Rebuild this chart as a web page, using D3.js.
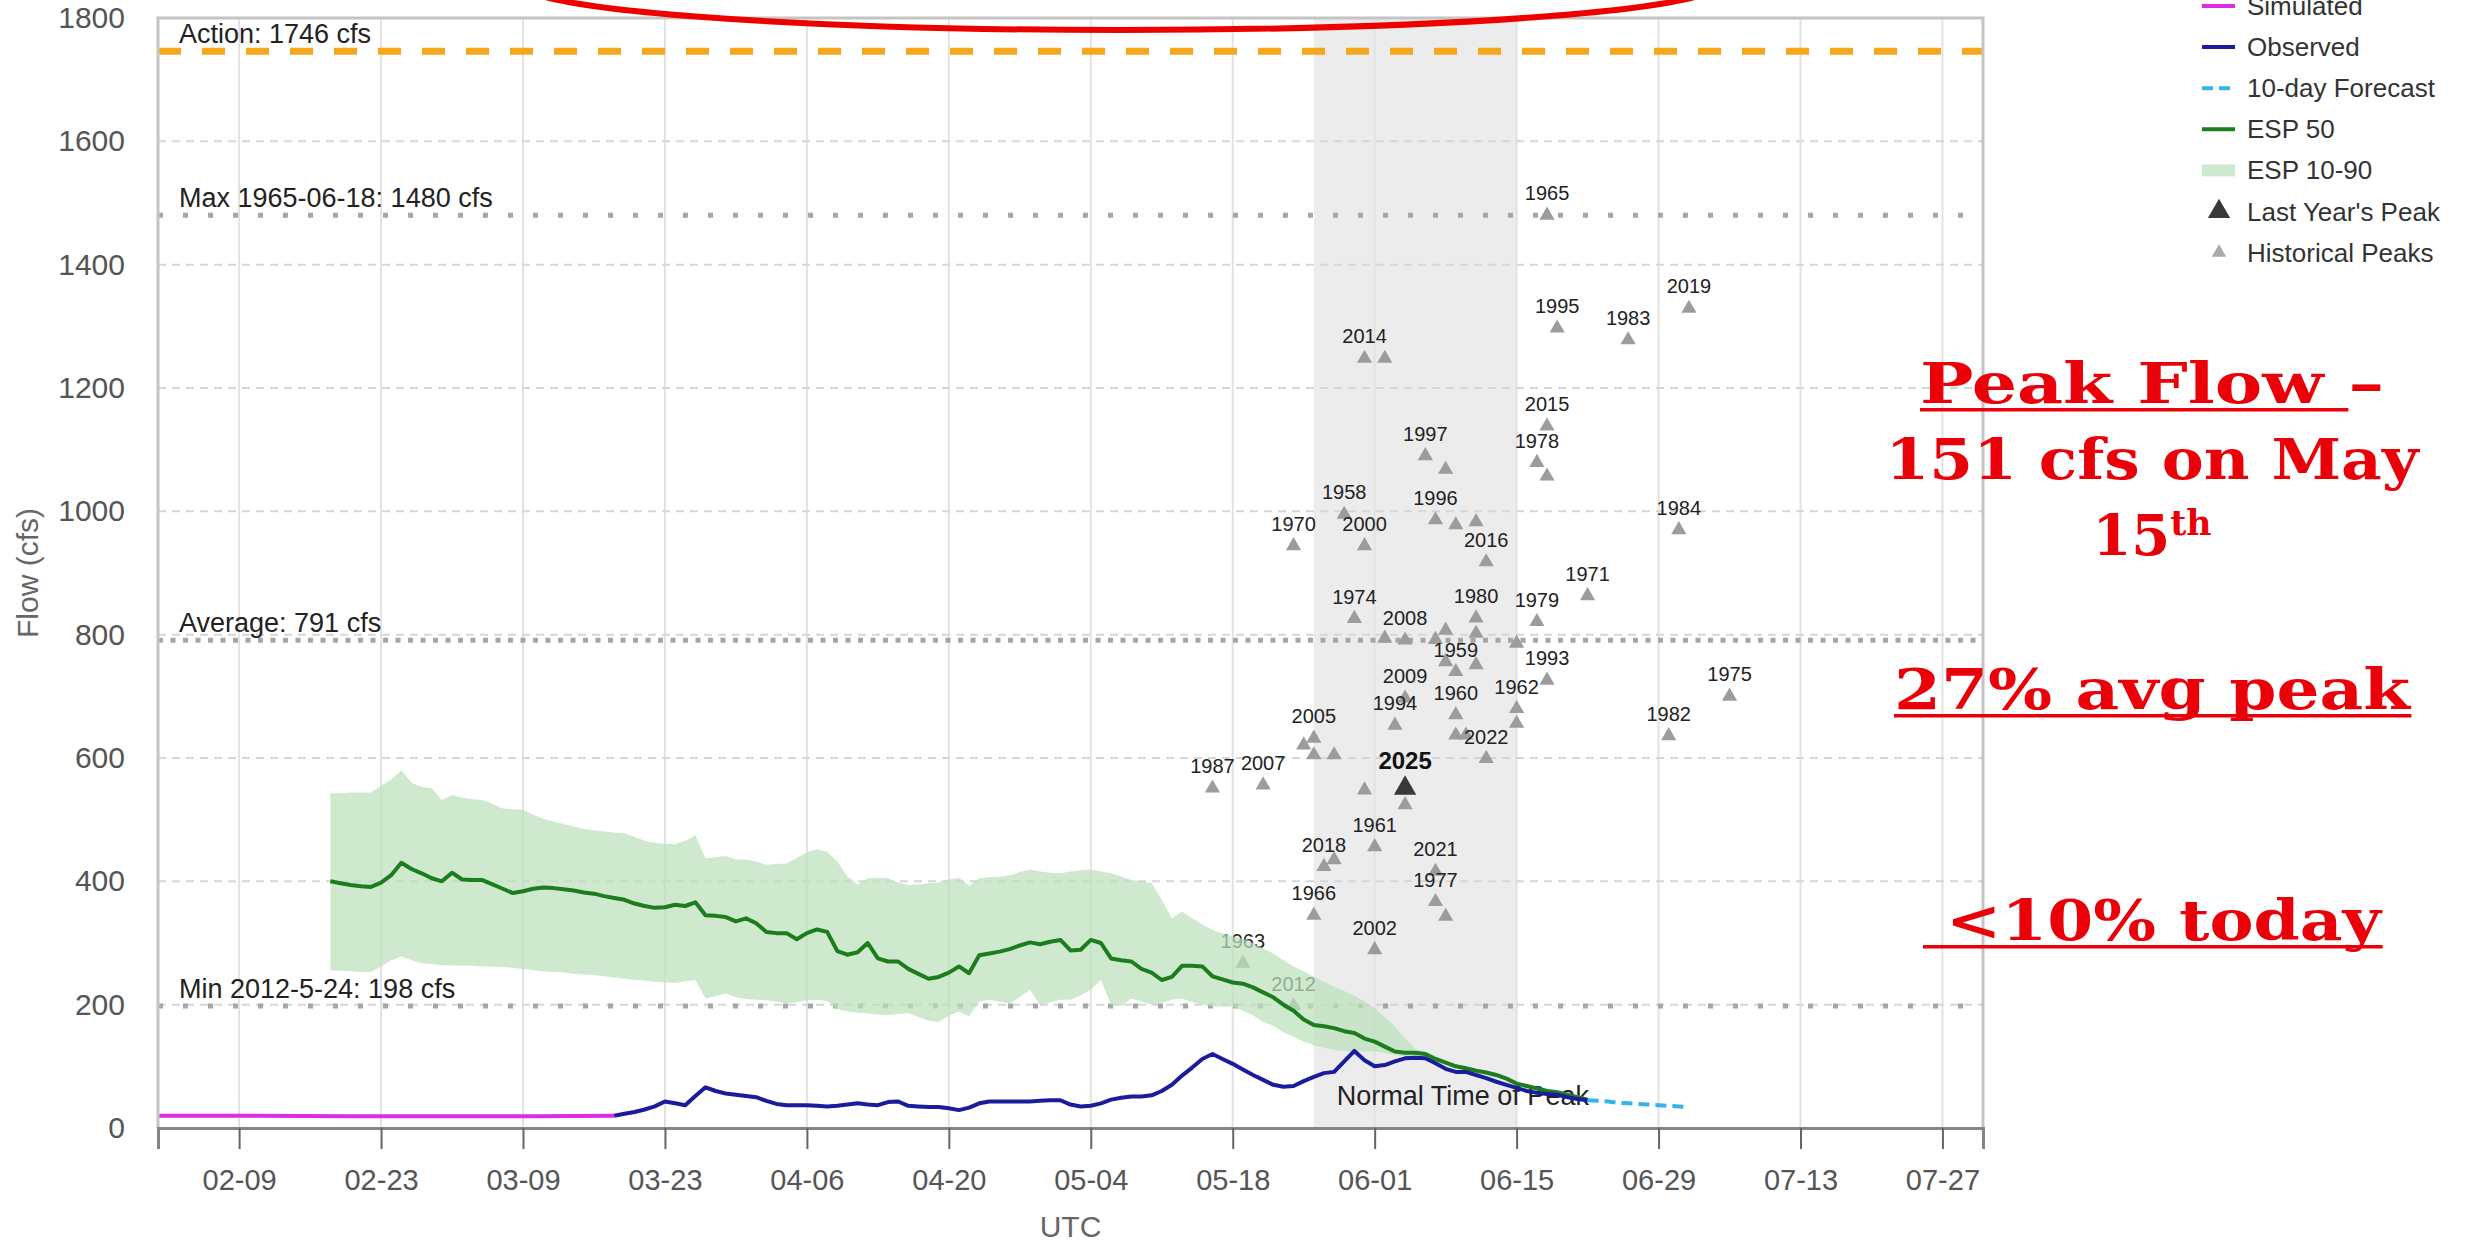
<!DOCTYPE html>
<html><head><meta charset="utf-8">
<script src="https://cdn.jsdelivr.net/npm/d3@7"></script>
<style>body{margin:0;background:#fff;overflow:hidden}</style>
</head><body>
<svg id="chart" width="2469" height="1242"></svg>
<script>
// ---------------- DATA ----------------
const YEAR = 2026;
const xDomain = ["02-01", "07-31"];
const xTickLabels = ["02-09","02-23","03-09","03-23","04-06","04-20","05-04","05-18","06-01","06-15","06-29","07-13","07-27"];
const yTickValues = [0,200,400,600,800,1000,1200,1400,1600,1800];

const simulatedDates = ["02-01","02-10","02-20","03-01","03-10","03-18"];
const simulatedValues = [20,20,19,19,19,20];

const observedStart = "03-18";   // daily values
const observedValues = [20,23,26,30,35,43,40,37,52,66,60,56,54,52,50,44,39,37,37,37,
  36,35,36,38,40,38,37,42,43,36,35,34,34,32,29,33,40,43,43,43,
  43,43,44,45,45,38,35,36,40,46,49,51,51,53,60,70,85,98,112,120,
  112,104,95,86,78,70,67,68,76,83,89,91,108,125,110,100,102,108,113,114,
  113,105,96,91,91,86,81,75,70,65,60,57,55,54,50,47,45];

const forecastStart = "06-22";   // daily values
const forecastValues = [45,44,43,41,40,39,38,37,36,35,34];

const espStart = "02-18";        // daily values
const esp50 = [400,397,394,392,391,398,410,430,420,413,
  405,400,414,403,402,402,395,388,381,384,
  388,390,389,387,385,382,380,376,373,370,
  364,360,357,358,362,360,366,345,344,342,
  335,340,332,318,316,316,306,316,322,318,
  287,281,285,300,275,270,270,258,250,242,
  245,252,262,251,280,283,286,290,296,301,
  298,302,305,288,289,305,300,275,272,270,
  258,252,240,245,263,263,262,246,241,236,
  234,228,220,212,200,190,176,167,165,162,
  157,154,145,140,132,124,122,122,120,112,
  106,100,97,93,90,86,80,72,68,64,
  60,58,54,50,46];
const esp90 = [543,543,544,544,544,555,565,580,560,553,
  551,532,540,536,533,532,526,518,517,516,
  508,502,497,493,489,485,483,481,479,478,
  472,466,462,461,460,466,475,437,439,441,
  436,435,432,427,428,429,438,447,452,448,
  432,408,395,405,406,405,398,394,395,397,
  398,403,406,393,405,407,407,410,415,419,
  416,414,413,416,418,419,416,413,408,402,
  400,397,370,340,351,340,330,321,316,311,
  307,300,291,283,272,262,254,245,237,229,
  222,215,205,195,180,165,145,128,124,117,
  110,104,100,96,93,89,83,75,71,67,
  63,61,57,53,48];
const esp10 = [256,255,254,253,253,262,272,278,272,267,
  266,264,264,263,263,262,262,261,260,258,
  256,254,253,252,250,249,248,246,244,242,
  240,239,237,236,235,238,240,210,214,218,
  212,209,208,207,205,202,204,207,208,206,
  192,189,187,186,184,183,185,186,180,174,
  172,182,189,181,205,208,205,202,212,224,
  199,204,208,208,215,224,240,200,198,210,
  205,200,203,208,210,204,200,197,197,197,
  190,183,172,166,155,148,140,134,130,127,
  125,124,124,124,122,118,116,115,113,108,
  102,96,93,89,86,82,77,69,65,61,
  57,55,51,47,44];

const peakDates = ["06-18","06-19","06-26","07-02","05-31","06-02","06-18","06-17","06-18","06-06",
  "06-08","05-29","05-31","05-24","06-07","06-09","06-11","06-12","07-01","06-22",
  "05-30","06-17","06-02","06-04","06-07","06-08","06-11","06-11","06-08","06-09",
  "06-11","06-15","06-18","06-15","06-15","06-04","06-03","06-09","06-09","06-10",
  "06-12","05-25","05-26","05-26","05-28","05-16","05-21","05-31","06-04","06-01",
  "05-27","05-28","06-07","06-07","06-08","05-26","06-01","05-19","05-24","06-30","07-06"];
const peakValues = [1480,1297,1278,1329,1248,1248,1138,1079,1057,1090,
  1068,995,944,944,986,978,983,918,970,863,
  826,821,794,791,792,807,802,827,756,740,
  751,786,726,680,656,697,653,670,637,637,
  599,621,632,605,605,551,556,548,524,456,
  424,435,416,367,343,345,289,267,198,636,700];
const peakYears = ["1965","1995","1983","2019","2014","","2015","1978","","1997",
  "","1958","2000","1970","1996","","","2016","1984","1971",
  "1974","1979","","2008","","","","1980","","1959",
  "","","1993","1962","","2009","1994","1960","","",
  "2022","","2005","","","1987","2007","","","1961",
  "2018","","2021","1977","","1966","2002","1963","2012","1982","1975"];

const lastPeakDate = "06-04";
const lastPeakValue = 551;
const lastPeakYear = "2025";

const refValues = [1746, 1480, 791, 198];
const refLabels = ["Action: 1746 cfs", "Max 1965-06-18: 1480 cfs", "Average: 791 cfs", "Min 2012-5-24: 198 cfs"];

const normalPeakRange = ["05-26", "06-15"];
const normalPeakLabel = "Normal Time of Peak";

const legendLabels = ["Simulated","Observed","10-day Forecast","ESP 50","ESP 10-90","Last Year's Peak","Historical Peaks"];
const axisTitles = ["UTC", "Flow (cfs)"];
const annotationTexts = ["Peak Flow \u2013", "151 cfs on May", "15", "th", "27% avg peak", "\u00a0<10% today"];

// ---------------- SETUP ----------------
const W = 2469, H = 1242;
const M = {left: 158, right: 1983, top: 18, bottom: 1128};
const SANS = "'Liberation Sans', Arial, sans-serif";
const svg = d3.select("#chart");
svg.append("rect").attr("width", W).attr("height", H).attr("fill", "#fff");

const parse = md => d3.utcParse("%Y-%m-%d")(`${YEAR}-${md}`);
const daily = (start, vals) => vals.map((v, i) => ({date: d3.utcDay.offset(parse(start), i), v}));

const x = d3.scaleUtc().domain(xDomain.map(parse)).range([M.left, M.right]);
const y = d3.scaleLinear().domain([0, 1800]).range([M.bottom, M.top]);

const COL = {
  sim: "#e02ce0", obs: "#1b1b9e", fc: "#35b5e5", esp: "#1c7d1c",
  band: "rgb(188,224,188)", action: "#f5a81c", ref: "#a6a6a6",
  hist: "#9c9c9c", last: "#383838", red: "#ea0008"
};

const plot = svg.append("g");

// normal time of peak shading
plot.append("rect")
  .attr("x", x(parse(normalPeakRange[0])))
  .attr("width", x(parse(normalPeakRange[1])) - x(parse(normalPeakRange[0])))
  .attr("y", M.top).attr("height", M.bottom - M.top)
  .attr("fill", "#ececec");

// gridlines
const tickDates = xTickLabels.map(parse);
plot.append("g").selectAll("line").data(tickDates).join("line")
  .attr("x1", d => x(d)).attr("x2", d => x(d))
  .attr("y1", M.top).attr("y2", M.bottom)
  .attr("stroke", "#e2e2e2").attr("stroke-width", 2);
plot.append("g").selectAll("line").data(yTickValues.filter(v => v > 0 && v < 1800)).join("line")
  .attr("x1", M.left).attr("x2", M.right)
  .attr("y1", d => y(d)).attr("y2", d => y(d))
  .attr("stroke", "#d6d6d6").attr("stroke-width", 2).attr("stroke-dasharray", "8,6");

// reference lines
const refStyles = [
  {stroke: COL.action, w: 7, dash: "23,21"},
  {stroke: COL.ref, w: 5, dash: "5,20"},
  {stroke: COL.ref, w: 5, dash: "5,7.5"},
  {stroke: COL.ref, w: 5, dash: "5,20"}
];
refValues.forEach((v, i) => {
  plot.append("line").attr("x1", M.left).attr("x2", M.right)
    .attr("y1", y(v)).attr("y2", y(v))
    .attr("stroke", refStyles[i].stroke).attr("stroke-width", refStyles[i].w)
    .attr("stroke-dasharray", refStyles[i].dash);
  plot.append("text").attr("x", M.left + 21).attr("y", y(v) - 8)
    .attr("font-family", SANS).attr("font-size", 27).attr("fill", "#222")
    .text(refLabels[i]);
});

// normal time of peak label (under the series)
plot.append("text")
  .attr("x", x(parse(normalPeakRange[0])) + 23).attr("y", M.bottom - 23)
  .attr("font-family", SANS).attr("font-size", 27).attr("fill", "#222")
  .text(normalPeakLabel);

// historical peaks
const peaks = peakDates.map((d, i) => ({date: parse(d), v: peakValues[i], yr: peakYears[i]}));
const triHist = d3.symbol(d3.symbolTriangle, 100);
const pg = plot.append("g");
pg.selectAll("path").data(peaks).join("path")
  .attr("d", triHist)
  .attr("transform", d => `translate(${x(d.date)},${y(d.v)})`)
  .attr("fill", COL.hist);
pg.selectAll("text").data(peaks.filter(d => d.yr)).join("text")
  .attr("x", d => x(d.date)).attr("y", d => y(d.v) - 15)
  .attr("text-anchor", "middle")
  .attr("font-family", SANS).attr("font-size", 20).attr("fill", "#222")
  .text(d => d.yr);

// ESP band
const espData = esp50.map((v, i) => ({date: d3.utcDay.offset(parse(espStart), i), v, lo: esp10[i], hi: esp90[i]}));
plot.append("path").datum(espData)
  .attr("d", d3.area().x(d => x(d.date)).y0(d => y(d.lo)).y1(d => y(d.hi)))
  .attr("fill", COL.band).attr("fill-opacity", 0.72);

// lines
const line = d3.line().x(d => x(d.date)).y(d => y(d.v));
plot.append("path").datum(espData).attr("d", line)
  .attr("fill", "none").attr("stroke", COL.esp).attr("stroke-width", 4).attr("stroke-linejoin", "round");
const simData = simulatedDates.map((d, i) => ({date: parse(d), v: simulatedValues[i]}));
plot.append("path").datum(simData).attr("d", line)
  .attr("fill", "none").attr("stroke", COL.sim).attr("stroke-width", 4);
plot.append("path").datum(daily(observedStart, observedValues)).attr("d", line)
  .attr("fill", "none").attr("stroke", COL.obs).attr("stroke-width", 4).attr("stroke-linejoin", "round");
plot.append("path").datum(daily(forecastStart, forecastValues)).attr("d", line)
  .attr("fill", "none").attr("stroke", COL.fc).attr("stroke-width", 4).attr("stroke-dasharray", "11,6");

// last year's peak
const triLast = d3.symbol(d3.symbolTriangle, 215);
plot.append("path").attr("d", triLast)
  .attr("transform", `translate(${x(parse(lastPeakDate))},${y(lastPeakValue)})`)
  .attr("fill", COL.last);
plot.append("text").attr("x", x(parse(lastPeakDate))).attr("y", y(lastPeakValue) - 19)
  .attr("text-anchor", "middle").attr("font-family", SANS).attr("font-size", 24)
  .attr("font-weight", "bold").attr("fill", "#111").text(lastPeakYear);

// border
svg.append("path")
  .attr("d", `M${M.left},${M.bottom} V${M.top} H${M.right} V${M.bottom}`)
  .attr("fill", "none").attr("stroke", "#c4c4c4").attr("stroke-width", 3);

// axes
const xAxis = svg.append("g").attr("transform", `translate(0,${M.bottom})`)
  .call(d3.axisBottom(x).tickValues(tickDates).tickFormat(d3.utcFormat("%m-%d")).tickSize(21).tickPadding(20));
xAxis.select(".domain").attr("stroke", "#858585").attr("stroke-width", 3);
xAxis.selectAll(".tick line").attr("stroke", "#666").attr("stroke-width", 2);
xAxis.selectAll("text").attr("font-family", SANS).attr("font-size", 29).attr("fill", "#555");

const yAxis = svg.append("g").attr("transform", `translate(${M.left},0)`)
  .call(d3.axisLeft(y).tickValues(yTickValues).tickFormat(d3.format("d")).tickSize(0).tickPadding(33));
yAxis.select(".domain").remove();
yAxis.selectAll("text").attr("font-family", SANS).attr("font-size", 30).attr("fill", "#555");

svg.append("text").attr("x", (M.left + M.right) / 2).attr("y", 1237)
  .attr("text-anchor", "middle").attr("font-family", SANS).attr("font-size", 30).attr("fill", "#666")
  .text(axisTitles[0]);
svg.append("text").attr("transform", `translate(38,${(M.top + M.bottom) / 2}) rotate(-90)`)
  .attr("text-anchor", "middle").attr("font-family", SANS).attr("font-size", 30).attr("fill", "#666")
  .text(axisTitles[1]);

// legend
const lg = svg.append("g").attr("transform", "translate(2202,6)");
const rowH = 41.1;
legendLabels.forEach((lab, i) => {
  const cy = i * rowH;
  const g = lg.append("g").attr("transform", `translate(0,${cy})`);
  if (i === 0 || i === 1 || i === 3) {
    g.append("line").attr("x1", 0).attr("x2", 33).attr("y1", 0).attr("y2", 0)
      .attr("stroke", [COL.sim, COL.obs, null, COL.esp][i]).attr("stroke-width", 4);
  } else if (i === 2) {
    g.append("line").attr("x1", 0).attr("x2", 33).attr("y1", 0).attr("y2", 0)
      .attr("stroke", COL.fc).attr("stroke-width", 4).attr("stroke-dasharray", "11,6");
  } else if (i === 4) {
    g.append("rect").attr("x", 0).attr("y", -6).attr("width", 33).attr("height", 12)
      .attr("fill", COL.band).attr("fill-opacity", 0.72);
  } else if (i === 5) {
    g.append("path").attr("d", triLast).attr("transform", "translate(17,0)").attr("fill", COL.last);
  } else {
    g.append("path").attr("d", d3.symbol(d3.symbolTriangle, 90)).attr("transform", "translate(17,0)").attr("fill", "#aaa");
  }
  g.append("text").attr("x", 45).attr("y", 9)
    .attr("font-family", SANS).attr("font-size", 26).attr("fill", "#333").text(lab);
});

// red annotations
const ann = svg.append("g").attr("fill", COL.red)
  .attr("font-family", "Georgia, 'DejaVu Serif', serif").attr("font-weight", "bold");
const fs = 56;
const cx = 2152;
function annLine(txt, base, width, underline, nUnder) {
  const t = ann.append("text").attr("x", cx).attr("y", base).attr("text-anchor", "middle")
    .attr("font-size", fs).attr("textLength", width).attr("lengthAdjust", "spacingAndGlyphs")
    .style("white-space", "pre").text(txt);
  if (underline) {
    const bb = t.node().getBBox();
    const n = nUnder == null ? txt.length : nUnder;
    const uw = n === txt.length ? bb.width : t.node().getSubStringLength(0, n);
    ann.append("rect").attr("x", bb.x).attr("y", base + 5).attr("width", uw).attr("height", 3.5);
  }
  return t;
}
annLine(annotationTexts[0], 403, 464, true, 10);
annLine(annotationTexts[1], 479, 533, false);
const t15 = ann.append("text").attr("x", cx).attr("y", 555).attr("text-anchor", "middle").attr("font-size", fs);
t15.append("tspan").text(annotationTexts[2]);
t15.append("tspan").attr("font-size", fs * 0.62).attr("dy", -fs * 0.36).text(annotationTexts[3]);
annLine(annotationTexts[4], 709, 516, true);
annLine(annotationTexts[5], 940, 458, true);

// red ellipse (top)
svg.append("ellipse").attr("cx", 1120).attr("cy", -16).attr("rx", 600).attr("ry", 46)
  .attr("fill", "none").attr("stroke", "#ee0000").attr("stroke-width", 6);
</script>
</body></html>
